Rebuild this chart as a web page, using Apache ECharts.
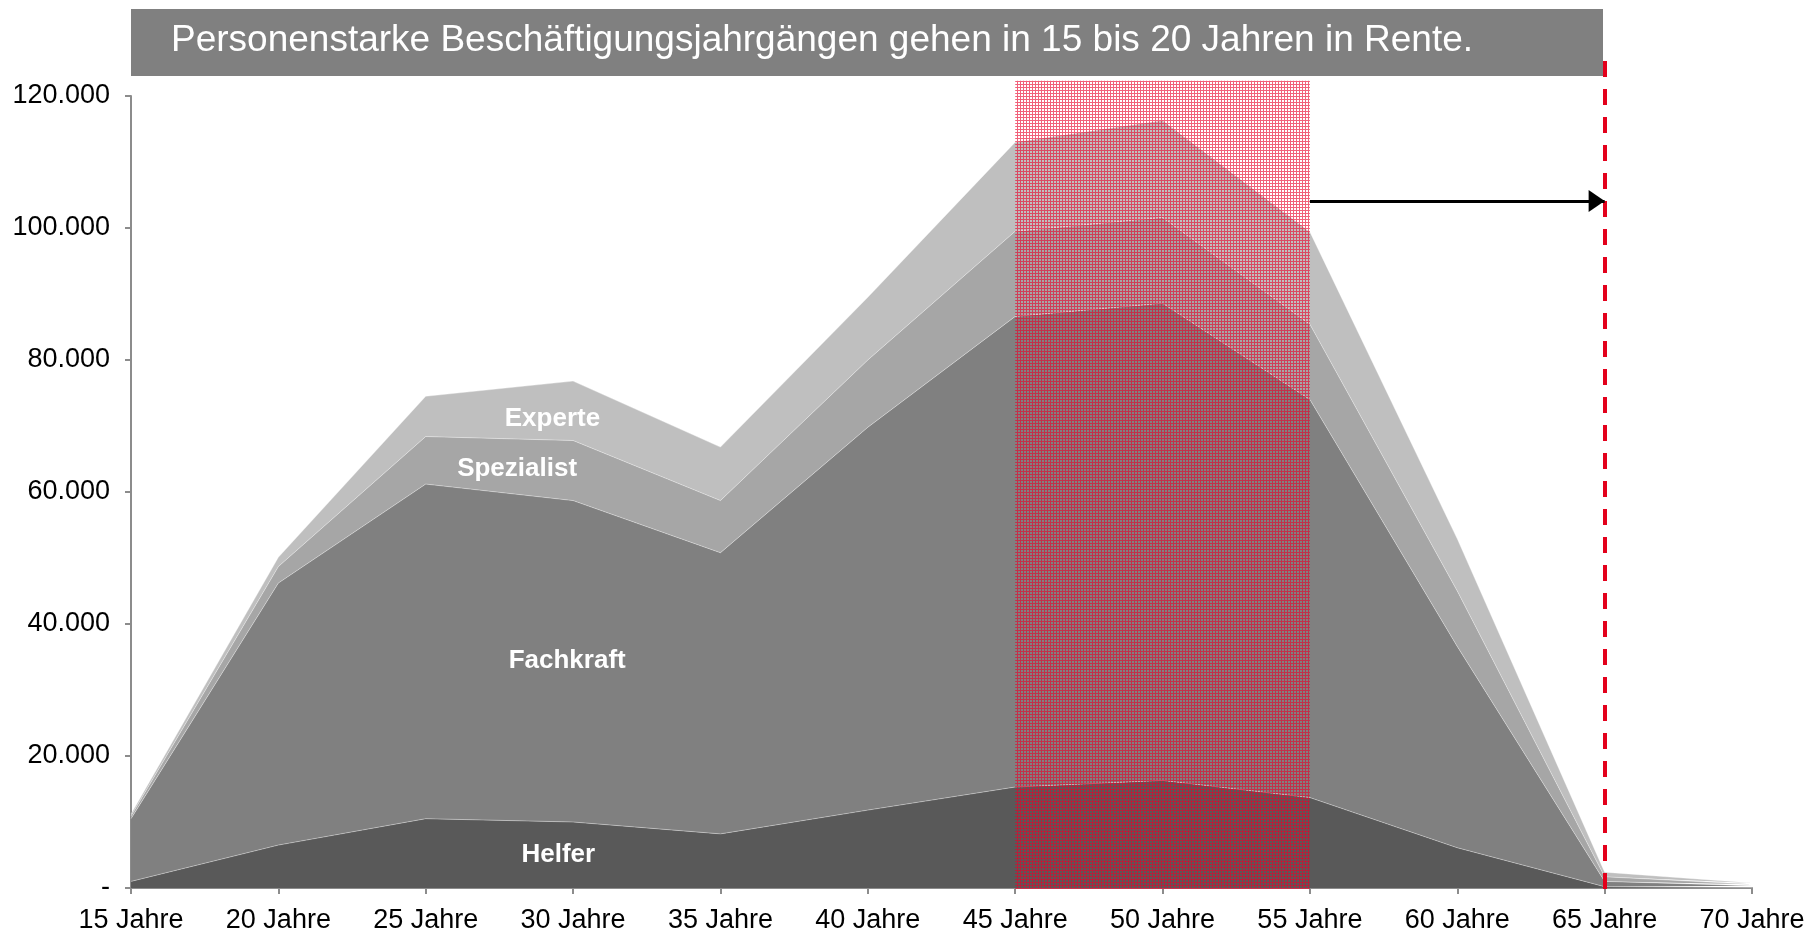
<!DOCTYPE html>
<html>
<head>
<meta charset="utf-8">
<script src="https://cdn.jsdelivr.net/npm/echarts@6/dist/echarts.min.js"></script>
<style>html,body{margin:0;padding:0;background:#fff}#c{width:1820px;height:934px}</style>
</head>
<body>
<div id="c"></div>
<script>
// ---- data ----
const ages = [15, 20, 25, 30, 35, 40, 45, 50, 55, 60, 65, 70];
const categories = ages.map(a => a + ' Jahre');
const seriesNames = ['Helfer', 'Fachkraft', 'Spezialist', 'Experte'];
// individual (non-cumulative) values per level
const helfer     = [1000, 6500, 10500, 10000, 8200, 11800, 15300, 16300, 13700, 6100, 200, 100];
const fachkraft  = [9500, 39700, 50700, 48700, 42600, 58000, 71300, 72300, 60300, 30500, 800, 250];
const spezialist = [400, 2500, 7200, 9100, 7900, 10200, 12900, 13000, 11400, 8400, 700, 200];
const experte    = [300, 1400, 6100, 9000, 8100, 9500, 13500, 14700, 14000, 7900, 700, 200];
const title = 'Personenstarke Beschäftigungsjahrgängen gehen in 15 bis 20 Jahren in Rente.';
const labelAge   = [29.3, 28.1, 29.8, 29.5];
const labelValue = [71200, 63600, 34600, 5100];
const labelText  = ['Experte', 'Spezialist', 'Fachkraft', 'Helfer'];
const retireStart = 45, retireEnd = 55, retireTop = 122300;
const pensionAge = 65;
const arrowValue = 104100;
const yTicks = [0, 20000, 40000, 60000, 80000, 100000, 120000];

// ---- chart ----
const chart = echarts.init(document.getElementById('c'), null, {renderer: 'canvas'});

const pc = document.createElement('canvas');
pc.width = 3; pc.height = 3;
const ctx = pc.getContext('2d');
ctx.fillStyle = 'rgba(232,0,40,0.62)';
ctx.fillRect(0, 0, 3, 1);
ctx.fillRect(0, 1, 1, 2);

const FONT = '"Liberation Sans", Arial, sans-serif';
const colors = ['#595959', '#808080', '#a6a6a6', '#bfbfbf'];
const values = [helfer, fachkraft, spezialist, experte];
const fmt = v => v === 0 ? '-' : String(v).replace(/\B(?=(\d{3})+(?!\d))/g, '.');

const yMax = yTicks[yTicks.length - 1];
const overlayMax = yMax * (889 - 58) / (889 - 96);

const areaSeries = seriesNames.map((n, i) => ({
  name: n,
  type: 'line',
  stack: 'total',
  xAxisIndex: 0, yAxisIndex: 0,
  data: values[i],
  symbol: 'none',
  lineStyle: {width: 1, color: 'rgba(255,255,255,0.35)'},
  areaStyle: {color: colors[i], opacity: 1},
  silent: true,
  z: 2
}));

chart.setOption({
  animation: false,
  grid: [
    {left: 131, right: 68, top: 96, bottom: 45},
    {left: 131, right: 68, top: 58, bottom: 45}
  ],
  xAxis: [
    {
      type: 'category', gridIndex: 0, data: categories, boundaryGap: false,
      axisLine: {lineStyle: {color: '#8c8c8c', width: 2}},
      axisTick: {show: true, length: 6, interval: 0, lineStyle: {color: '#8c8c8c', width: 2}},
      splitLine: {show: false},
      axisLabel: {color: '#000', fontFamily: FONT, fontSize: 27, margin: 19, interval: 0}
    },
    {type: 'value', gridIndex: 1, min: ages[0], max: ages[ages.length - 1], show: false}
  ],
  yAxis: [
    {
      type: 'value', gridIndex: 0, min: 0, max: yMax, interval: 20000,
      axisLine: {show: true, lineStyle: {color: '#8c8c8c', width: 2}},
      axisTick: {show: true, length: 6, lineStyle: {color: '#8c8c8c', width: 2}},
      splitLine: {show: false},
      axisLabel: {color: '#000', fontFamily: FONT, fontSize: 27, margin: 21, formatter: fmt}
    },
    {type: 'value', gridIndex: 1, min: 0, max: overlayMax, show: false}
  ],
  graphic: [
    {type: 'rect', left: 131, top: 9, shape: {width: 1472, height: 67}, style: {fill: '#808080'}, z: 0},
    {type: 'text', left: 171, top: 22, style: {text: title, fill: '#fff', font: '37px ' + FONT}, z: 1}
  ],
  series: areaSeries.concat([
    {
      type: 'scatter', xAxisIndex: 1, yAxisIndex: 1, symbolSize: 0, silent: true, z: 6,
      itemStyle: {opacity: 1},
      data: labelText.map((t, i) => ({name: t, value: [labelAge[i], labelValue[i]]})),
      label: {show: true, position: 'inside', formatter: p => p.name, color: '#ffffff', opacity: 1, fontWeight: 'bold', fontFamily: FONT, fontSize: 26}
    },
    {
      type: 'line', xAxisIndex: 1, yAxisIndex: 1, data: [], symbol: 'none', silent: true, z: 5, clip: false,
      markArea: {
        silent: true,
        z: 8,
        itemStyle: {color: {image: pc, repeat: 'repeat'}},
        data: [[{coord: [retireStart, 0]}, {coord: [retireEnd, retireTop]}]]
      },
      markLine: {
        silent: true,
        z: 9,
        animation: false,
        label: {show: false},
        data: [
          [{coord: [pensionAge, 0], symbol: 'none', lineStyle: {color: '#e3001b', width: 4, type: [16, 12]}},
           {coord: [pensionAge, overlayMax], symbol: 'none'}],
          [{coord: [retireEnd, arrowValue], symbol: 'none', lineStyle: {color: '#000', width: 3, type: 'solid'}},
           {coord: [pensionAge, arrowValue], symbol: 'triangle', symbolSize: [22, 16], symbolOffset: [0, 8]}]
        ]
      }
    }
  ])
});
</script>
</body>
</html>
